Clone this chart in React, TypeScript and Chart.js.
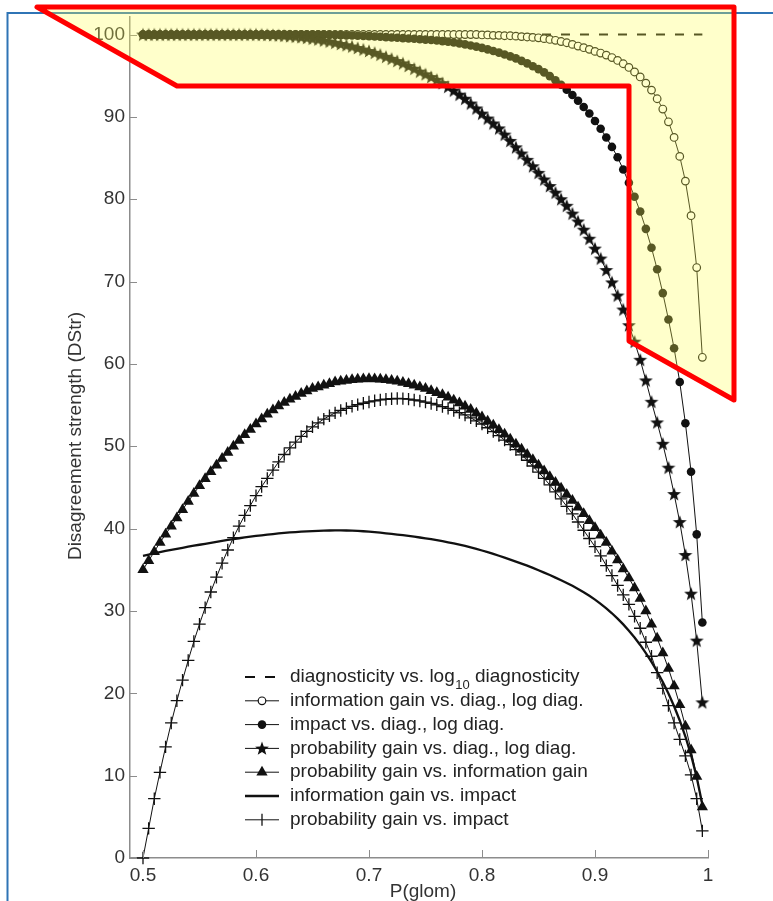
import { useEffect, useRef } from 'react';
import { Chart, registerables } from 'chart.js';

Chart.register(...registerables);

// ---------------- DATA ----------------
const pGlom = [
  0.500, 0.505, 0.510, 0.515, 0.520, 0.525, 0.530, 0.535, 0.540, 0.545,
  0.550, 0.555, 0.560, 0.565, 0.570, 0.575, 0.580, 0.585, 0.590, 0.595,
  0.600, 0.605, 0.610, 0.615, 0.620, 0.625, 0.630, 0.635, 0.640, 0.645,
  0.650, 0.655, 0.660, 0.665, 0.670, 0.675, 0.680, 0.685, 0.690, 0.695,
  0.700, 0.705, 0.710, 0.715, 0.720, 0.725, 0.730, 0.735, 0.740, 0.745,
  0.750, 0.755, 0.760, 0.765, 0.770, 0.775, 0.780, 0.785, 0.790, 0.795,
  0.800, 0.805, 0.810, 0.815, 0.820, 0.825, 0.830, 0.835, 0.840, 0.845,
  0.850, 0.855, 0.860, 0.865, 0.870, 0.875, 0.880, 0.885, 0.890, 0.895,
  0.900, 0.905, 0.910, 0.915, 0.920, 0.925, 0.930, 0.935, 0.940, 0.945,
  0.950, 0.955, 0.960, 0.965, 0.970, 0.975, 0.980, 0.985, 0.990, 0.995,
];

// diagnosticity vs. log10 diagnosticity (dashed, constant)
const diagVsLogDiagX = [0.5, 0.995];
const diagVsLogDiagY = [100, 100];

// information gain vs. diag., log diag. (open circles)
const infoGainVsDiag = [
  100, 100, 100, 100, 100, 100, 100, 100, 100, 100,
  100, 100, 100, 100, 100, 100, 100, 100, 100, 100,
  100, 100, 100, 100, 100, 100, 100, 100, 100, 100,
  100, 100, 100, 100, 100, 100, 100, 100, 100, 100,
  100, 100, 100, 100, 100, 100, 100, 100, 100, 100,
  100, 100, 100, 100, 100, 100, 100, 100, 100, 100,
  99.95, 99.95, 99.9, 99.9, 99.85, 99.85, 99.8, 99.75, 99.7, 99.65,
  99.6, 99.5, 99.4, 99.3, 99.15, 99.0, 98.8, 98.6, 98.4, 98.2,
  97.95, 97.75, 97.5, 97.2, 96.85, 96.45, 96.0, 95.45, 94.85, 94.1,
  93.25, 92.2, 90.95, 89.4, 87.5, 85.2, 82.2, 78.0, 71.7, 60.8,
];

// impact vs. diag., log diag. (filled circles)
const impactVsDiag = [
  100, 100, 100, 100, 100, 100, 100, 100, 100, 100,
  100, 100, 100, 100, 100, 100, 100, 100, 100, 100,
  100, 100, 100, 100, 100, 100, 100, 100, 100, 100,
  100, 100, 100, 99.98, 99.95, 99.93, 99.9, 99.88, 99.85, 99.82,
  99.8, 99.76, 99.72, 99.68, 99.64, 99.6, 99.56, 99.52, 99.48, 99.43,
  99.38, 99.33, 99.27, 99.2, 99.12, 99.03, 98.92, 98.8, 98.67, 98.53,
  98.38, 98.2, 98.0, 97.8, 97.58, 97.35, 97.1, 96.8, 96.5, 96.15,
  95.8, 95.4, 94.95, 94.45, 93.9, 93.3, 92.65, 91.95, 91.2, 90.4,
  89.5, 88.55, 87.5, 86.35, 85.1, 83.6, 82.0, 80.3, 78.5, 76.4,
  74.1, 71.5, 68.6, 65.4, 61.9, 57.8, 52.8, 46.9, 39.3, 28.6,
];

// probability gain vs. diag., log diag. (stars)
const probGainVsDiag = [
  100, 100, 100, 100, 100, 100, 100, 100, 100, 100,
  100, 100, 100, 100, 100, 100, 100, 100, 100, 100,
  100, 99.98, 99.96, 99.93, 99.9, 99.86, 99.8, 99.75, 99.68, 99.6,
  99.5, 99.4, 99.28, 99.15, 99.0, 98.85, 98.7, 98.55, 98.37, 98.18,
  98.0, 97.78, 97.55, 97.3, 97.05, 96.78, 96.5, 96.18, 95.85, 95.5,
  95.17, 94.84, 94.5, 94.1, 93.65, 93.2, 92.7, 92.2, 91.62, 91.02,
  90.4, 89.8, 89.2, 88.6, 87.85, 87.08, 86.3, 85.55, 84.78, 84.0,
  83.2, 82.4, 81.6, 80.8, 80.0, 79.2, 78.25, 77.3, 76.3, 75.2,
  74.0, 72.8, 71.4, 69.9, 68.3, 66.6, 64.7, 62.7, 60.5, 58.0,
  55.4, 52.9, 50.3, 47.4, 44.2, 40.8, 36.8, 32.1, 26.4, 18.9,
];

// probability gain vs. information gain (triangles)
const probGainVsInfoGain = [
  35.0, 36.1, 37.2, 38.3, 39.3, 40.3, 41.3, 42.3, 43.3, 44.25,
  45.2, 46.05, 46.9, 47.7, 48.5, 49.25, 50.0, 50.7, 51.4, 52.05,
  52.7, 53.3, 53.9, 54.4, 54.9, 55.3, 55.7, 56.05, 56.4, 56.7,
  57.0, 57.2, 57.4, 57.6, 57.8, 57.9, 58.0, 58.08, 58.15, 58.18,
  58.2, 58.18, 58.15, 58.08, 58.0, 57.88, 57.75, 57.58, 57.4, 57.2,
  57.0, 56.75, 56.5, 56.25, 55.95, 55.6, 55.25, 54.85, 54.45, 54.0,
  53.55, 53.05, 52.55, 52.0, 51.45, 50.85, 50.25, 49.65, 49.0, 48.35,
  47.7, 47.0, 46.3, 45.6, 44.9, 44.15, 43.4, 42.6, 41.8, 40.95,
  40.1, 39.2, 38.3, 37.25, 36.2, 35.1, 34.0, 32.8, 31.5, 30.0,
  28.4, 26.7, 24.9, 23.0, 20.9, 18.6, 16.0, 13.1, 9.9, 6.2,
];

// information gain vs. impact (solid line)
const infoGainVsImpact = [
  36.7, 36.85, 37.0, 37.15, 37.3, 37.42, 37.55, 37.67, 37.8, 37.92,
  38.04, 38.16, 38.28, 38.4, 38.51, 38.62, 38.73, 38.83, 38.93, 39.02,
  39.11, 39.19, 39.27, 39.34, 39.41, 39.47, 39.53, 39.58, 39.63, 39.67,
  39.7, 39.73, 39.75, 39.77, 39.78, 39.78, 39.77, 39.75, 39.72, 39.68,
  39.63, 39.57, 39.5, 39.43, 39.36, 39.28, 39.2, 39.11, 39.02, 38.92,
  38.82, 38.72, 38.6, 38.47, 38.34, 38.2, 38.05, 37.9, 37.72, 37.53,
  37.34, 37.14, 36.93, 36.7, 36.47, 36.24, 36.0, 35.75, 35.5, 35.23,
  34.95, 34.66, 34.36, 34.05, 33.73, 33.4, 33.05, 32.68, 32.28, 31.85,
  31.38, 30.87, 30.32, 29.72, 29.07, 28.37, 27.6, 26.77, 25.87, 24.89,
  23.82, 22.65, 21.37, 19.97, 18.42, 16.7, 14.75, 12.5, 9.8, 6.5,
];

// probability gain vs. impact (plus)
const probGainVsImpact = [
  0, 3.6, 7.2, 10.4, 13.5, 16.4, 19.1, 21.6, 24.0, 26.3,
  28.4, 30.4, 32.3, 34.1, 35.8, 37.4, 38.9, 40.3, 41.6, 42.8,
  44.0, 45.1, 46.1, 47.1, 48.1, 49.0, 49.8, 50.5, 51.2, 51.8,
  52.35, 52.85, 53.3, 53.7, 54.05, 54.35, 54.6, 54.85, 55.05, 55.22,
  55.38, 55.52, 55.63, 55.71, 55.77, 55.8, 55.78, 55.72, 55.62, 55.5,
  55.36, 55.2, 55.02, 54.82, 54.6, 54.35, 54.08, 53.8, 53.45, 53.08,
  52.7, 52.25, 51.78, 51.3, 50.75, 50.2, 49.6, 48.95, 48.3, 47.6,
  46.85, 46.1, 45.3, 44.45, 43.6, 42.7, 41.8, 40.8, 39.8, 38.8,
  37.8, 36.7, 35.5, 34.3, 33.1, 31.95, 30.8, 29.35, 27.9, 26.2,
  24.5, 22.5, 20.6, 18.5, 16.4, 14.4, 12.4, 10.1, 7.2, 3.3,
];

const xTickValues = [0.5, 0.6, 0.7, 0.8, 0.9, 1];
const yTickValues = [0, 10, 20, 30, 40, 50, 60, 70, 80, 90, 100];

const xAxisTitle = 'P(glom)';
const yAxisTitle = 'Disagreement strength (DStr)';

const legendLabels = [
  'diagnosticity vs. log{10} diagnosticity',
  'information gain vs. diag., log diag.',
  'impact vs. diag., log diag.',
  'probability gain vs. diag., log diag.',
  'probability gain vs. information gain',
  'information gain vs. impact',
  'probability gain vs. impact',
];

// ---------------- STYLE ----------------
const FONT = "'Liberation Sans', Arial, Helvetica, sans-serif";
const INK = '#111111';

function starPath(ctx: CanvasRenderingContext2D, cx: number, cy: number, ro: number, ri: number) {
  ctx.beginPath();
  for (let k = 0; k < 10; k++) {
    const r = k % 2 === 0 ? ro : ri;
    const a = -Math.PI / 2 + (k * Math.PI) / 5;
    const px = cx + r * Math.cos(a);
    const py = cy + r * Math.sin(a);
    if (k === 0) ctx.moveTo(px, py);
    else ctx.lineTo(px, py);
  }
  ctx.closePath();
}

function makeStar(): HTMLCanvasElement {
  const c = document.createElement('canvas');
  c.width = 16;
  c.height = 16;
  const g = c.getContext('2d')!;
  g.fillStyle = INK;
  starPath(g, 8, 8.5, 7.3, 3.0);
  g.fill();
  return c;
}

export default function App() {
  const ref = useRef<HTMLCanvasElement | null>(null);

  useEffect(() => {
    const canvas = ref.current;
    if (!canvas) return;
    const star = makeStar();
    const pts = (ys: number[]) => ys.map((y, i) => ({ x: pGlom[i], y }));

    const drawMarker = (ctx: CanvasRenderingContext2D, kind: number, x: number, y: number) => {
      ctx.save();
      ctx.strokeStyle = INK;
      ctx.fillStyle = INK;
      if (kind === 0) {
        ctx.lineWidth = 2;
        ctx.beginPath();
        ctx.moveTo(245, y); ctx.lineTo(255, y);
        ctx.moveTo(265, y); ctx.lineTo(275, y);
        ctx.stroke();
      } else if (kind === 5) {
        ctx.lineWidth = 2.4;
        ctx.beginPath();
        ctx.moveTo(245, y); ctx.lineTo(279, y);
        ctx.stroke();
      } else {
        ctx.lineWidth = 1;
        ctx.beginPath();
        ctx.moveTo(245, y); ctx.lineTo(279, y);
        ctx.stroke();
        if (kind === 1) {
          ctx.fillStyle = '#fff';
          ctx.lineWidth = 1.2;
          ctx.beginPath(); ctx.arc(x, y, 3.8, 0, Math.PI * 2); ctx.fill(); ctx.stroke();
        } else if (kind === 2) {
          ctx.beginPath(); ctx.arc(x, y, 4.3, 0, Math.PI * 2); ctx.fill();
        } else if (kind === 3) {
          starPath(ctx, x, y + 0.5, 7.3, 3.0); ctx.fill();
        } else if (kind === 4) {
          const r = 6.5;
          ctx.beginPath();
          ctx.moveTo(x, y - r);
          ctx.lineTo(x + r * Math.sin((2 * Math.PI) / 3), y - r * Math.cos((2 * Math.PI) / 3));
          ctx.lineTo(x + r * Math.sin((4 * Math.PI) / 3), y - r * Math.cos((4 * Math.PI) / 3));
          ctx.closePath(); ctx.fill();
        } else if (kind === 6) {
          ctx.lineWidth = 1.3;
          ctx.beginPath();
          ctx.moveTo(x, y - 6); ctx.lineTo(x, y + 6);
          ctx.stroke();
        }
      }
      ctx.restore();
    };

    const decor = {
      id: 'decor',
      beforeDraw(chart: any) {
        const ctx: CanvasRenderingContext2D = chart.ctx;
        ctx.save();
        ctx.fillStyle = '#ffffff';
        ctx.fillRect(0, 0, chart.width, chart.height);
        // blue frame
        ctx.strokeStyle = '#2f74b5';
        ctx.lineWidth = 2;
        ctx.beginPath();
        ctx.moveTo(7.5, 901);
        ctx.lineTo(7.5, 13);
        ctx.lineTo(773, 13);
        ctx.stroke();
        ctx.restore();
      },
      afterDraw(chart: any) {
        const ctx: CanvasRenderingContext2D = chart.ctx;
        const xs = chart.scales.x;
        const ys = chart.scales.y;
        const area = chart.chartArea;
        ctx.save();
        // inward tick marks
        ctx.strokeStyle = '#8c8c8c';
        ctx.lineWidth = 1;
        ctx.beginPath();
        yTickValues.forEach((v) => {
          const py = Math.round(ys.getPixelForValue(v)) + 0.5;
          ctx.moveTo(area.left, py); ctx.lineTo(area.left + 7, py);
        });
        xTickValues.forEach((v) => {
          const px = Math.round(xs.getPixelForValue(v)) + 0.5;
          ctx.moveTo(px, area.bottom); ctx.lineTo(px, area.bottom - 8);
        });
        ctx.stroke();

        // axis titles
        ctx.fillStyle = '#333';
        ctx.font = `19px ${FONT}`;
        ctx.textAlign = 'center';
        ctx.textBaseline = 'middle';
        ctx.fillText(xAxisTitle, 423, 892);
        ctx.save();
        ctx.translate(76, 436);
        ctx.rotate(-Math.PI / 2);
        ctx.fillText(yAxisTitle, 0, 0);
        ctx.restore();

        // legend
        ctx.textAlign = 'left';
        legendLabels.forEach((lab, i) => {
          const y = 677 + i * 23.8;
          drawMarker(ctx, i, 262, y);
          ctx.fillStyle = '#232323';
          const m = lab.match(/^(.*)\{(.*)\}(.*)$/);
          if (m) {
            let x = 290;
            ctx.font = `19px ${FONT}`;
            ctx.fillText(m[1], x, y);
            x += ctx.measureText(m[1]).width;
            ctx.font = `13px ${FONT}`;
            ctx.fillText(m[2], x + 0.5, y + 8);
            x += ctx.measureText(m[2]).width + 0.5;
            ctx.font = `19px ${FONT}`;
            ctx.fillText(m[3], x, y);
          } else {
            ctx.font = `19px ${FONT}`;
            ctx.fillText(lab, 290, y);
          }
        });

        // highlighted polygon
        const poly: [number, number][] = [
          [37, 7], [734, 7], [734, 400], [629, 341], [629, 86], [177, 86],
        ];
        ctx.beginPath();
        poly.forEach(([px, py], k) => (k === 0 ? ctx.moveTo(px, py) : ctx.lineTo(px, py)));
        ctx.closePath();
        ctx.fillStyle = 'rgba(255,255,82,0.3)';
        ctx.fill();
        ctx.strokeStyle = '#ff0000';
        ctx.lineWidth = 5;
        ctx.lineJoin = 'round';
        ctx.stroke();
        ctx.restore();
      },
    };

    const chart = new Chart(canvas, {
      type: 'scatter',
      data: {
        datasets: [
          {
            label: legendLabels[0],
            data: diagVsLogDiagX.map((x, i) => ({ x, y: diagVsLogDiagY[i] })),
            showLine: true,
            borderColor: INK,
            borderWidth: 2,
            borderDash: [9, 10],
            pointRadius: 0,
            order: 3,
            clip: false,
          },
          {
            label: legendLabels[1],
            data: pts(infoGainVsDiag),
            showLine: true,
            borderColor: INK,
            borderWidth: 1,
            pointStyle: 'circle',
            pointRadius: 3.8,
            pointBorderWidth: 1.2,
            pointBackgroundColor: '#ffffff',
            pointBorderColor: INK,
            order: 2,
            clip: false,
          },
          {
            label: legendLabels[2],
            data: pts(impactVsDiag),
            showLine: true,
            borderColor: INK,
            borderWidth: 1,
            pointStyle: 'circle',
            pointRadius: 4.3,
            pointBorderWidth: 0,
            pointBackgroundColor: INK,
            pointBorderColor: INK,
            order: 1,
            clip: false,
          },
          {
            label: legendLabels[3],
            data: pts(probGainVsDiag),
            showLine: true,
            borderColor: INK,
            borderWidth: 1,
            pointStyle: star,
            pointRadius: 7,
            order: 0,
            clip: false,
          },
          {
            label: legendLabels[4],
            data: pts(probGainVsInfoGain),
            showLine: true,
            borderColor: INK,
            borderWidth: 1,
            pointStyle: 'triangle',
            pointRadius: 6.5,
            pointBorderWidth: 0,
            pointBackgroundColor: INK,
            pointBorderColor: INK,
            order: 6,
            clip: false,
          },
          {
            label: legendLabels[5],
            data: pts(infoGainVsImpact),
            showLine: true,
            borderColor: INK,
            borderWidth: 2.3,
            pointRadius: 0,
            order: 5,
            clip: false,
          },
          {
            label: legendLabels[6],
            data: pts(probGainVsImpact),
            showLine: true,
            borderColor: INK,
            borderWidth: 1,
            pointStyle: 'cross',
            pointRadius: 6.2,
            pointBorderWidth: 1.3,
            pointBorderColor: INK,
            order: 4,
            clip: false,
          },
        ] as any,
      },
      options: {
        responsive: false,
        animation: false,
        events: [],
        layout: { padding: { left: 0, right: 65, top: 15, bottom: 0 }, autoPadding: false } as any,
        plugins: { legend: { display: false }, tooltip: { enabled: false } },
        elements: { line: { tension: 0 } },
        scales: {
          x: {
            type: 'linear',
            min: 0.4885,
            max: 1.0,
            grid: { display: false, drawTicks: false },
            border: { display: true, color: '#8c8c8c', width: 1.5 },
            afterBuildTicks: (s: any) => {
              s.ticks = xTickValues.map((value) => ({ value }));
            },
            afterFit: (s: any) => {
              s.height = 43;
            },
            ticks: {
              padding: 6,
              maxRotation: 0,
              autoSkip: false,
              color: '#333',
              font: { size: 19, family: FONT },
              callback: (v: any) => (Number(v) === 1 ? '1' : Number(v).toFixed(1)),
            },
          },
          y: {
            type: 'linear',
            min: 0,
            max: 102.2,
            grid: { display: false, drawTicks: false },
            border: { display: true, color: '#8c8c8c', width: 1.5 },
            afterBuildTicks: (s: any) => {
              s.ticks = yTickValues.map((value) => ({ value }));
            },
            afterFit: (s: any) => {
              s.width = 130;
            },
            ticks: {
              padding: 5,
              autoSkip: false,
              color: '#333',
              font: { size: 19, family: FONT },
              callback: (v: any) => String(v),
            },
          },
        },
      } as any,
      plugins: [decor],
    });

    return () => chart.destroy();
  }, []);

  return (
    <div style={{ position: 'fixed', left: 0, top: 0, width: 773, height: 901, background: '#fff' }}>
      <canvas ref={ref} width={773} height={901} style={{ display: 'block', width: 773, height: 901 }} />
    </div>
  );
}
